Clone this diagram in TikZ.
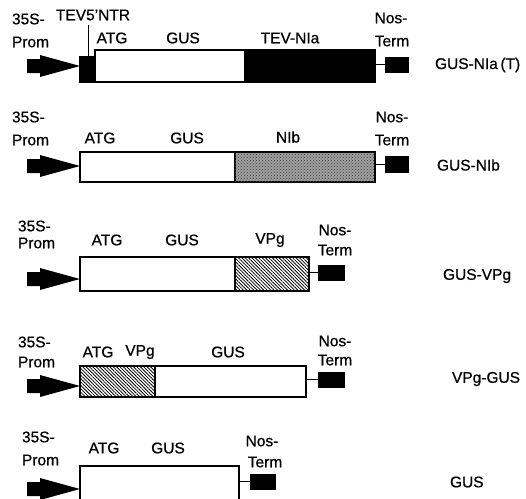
\documentclass[tikz,border=0pt]{standalone}
\usepackage{fontspec}
\setmainfont{Liberation Sans}
\newfontfamily\lblfont[FakeBold=0.6]{Liberation Sans}
\usetikzlibrary{patterns,patterns.meta}
\begin{document}
\begin{tikzpicture}[x=1pt,y=-1pt,
  lbl/.style={font=\lblfont\fontsize{15.5}{15.5}\selectfont, inner sep=0pt, outer sep=0pt},
  lblw/.style={lbl, anchor=west},
  seg/.style={draw, line width=1.1pt, inner sep=0pt, outer sep=0pt, anchor=north west},
  whiteseg/.style={seg, fill=white},
  blackseg/.style={seg, fill=black},
  stippleseg/.style={seg, fill=black!38, postaction={pattern=crosshatch dots, pattern color=black!75}},
  hatchseg/.style={seg, pattern={Lines[angle=-45,distance=2.4pt,line width=0.8pt]}},
  nosbox/.style={fill=black, draw, line width=0.5pt, inner sep=0pt, outer sep=0pt, anchor=north west},
  link/.style={line width=1pt},
  promarrow/.pic={\fill (-53,-7) -- (-40,-7) -- (-40,-11) -- (0,0) -- (-40,11) -- (-40,7) -- (-53,7) -- cycle;}
]
\useasboundingbox (0,0) rectangle (526,498);
\clip (0,0) rectangle (526,498);

% ---------- Row 1: GUS-NIa(T)
\pic at (80,66) {promarrow};
\node[blackseg, minimum width=15pt, minimum height=25pt] (t1) at (80,57) {};
\node[whiteseg, minimum width=150pt, minimum height=32pt] (a1) at (95,50) {};
\node[blackseg, minimum width=130pt, minimum height=32pt] (b1) at (245,50) {};
\node[nosbox, minimum width=23pt, minimum height=15pt] (n1) at (385,57) {};
\draw[link] (b1.east |- n1.west) -- (n1.west);
\node[lbl, anchor=west] (p1a) at (12,19) {35S-};
\node[lbl, anchor=west] (p1b) at (12,42) {Prom};
\node[lbl] (tev) at (93,15) {TEV5’NTR};
\coordinate (tevtop) at (88,25);
\draw[line width=0.9pt] (tevtop) -- (t1.north -| tevtop);
\node[lbl] (atg1) at (112,38) {ATG};
\node[lbl] (gus1) at (183,38) {GUS};
\node[lbl] (nia) at (290,38) {TEV-NIa};
\node[lbl] (nos1) at (391,18) {Nos-};
\node[lbl] (term1) at (392,41) {Term};
\node[lblw] (name1) at (435,65) {GUS-NIa\,(T)};

% ---------- Row 2: GUS-NIb
\pic at (80,166) {promarrow};
\node[whiteseg, minimum width=155pt, minimum height=30pt] (a2) at (80,152) {};
\node[stippleseg, minimum width=140pt, minimum height=30pt] (b2) at (235,152) {};
\node[nosbox, minimum width=23pt, minimum height=16pt] (n2) at (385,156) {};
\draw[link] (b2.east |- n2.west) -- (n2.west);
\node[lbl, anchor=west] (p2a) at (12,117) {35S-};
\node[lbl, anchor=west] (p2b) at (12,140) {Prom};
\node[lbl] (atg2) at (100,138) {ATG};
\node[lbl] (gus2) at (187,138) {GUS};
\node[lbl] (nib) at (288,137) {NIb};
\node[lbl] (nos2) at (392,117) {Nos-};
\node[lbl] (term2) at (392,140) {Term};
\node[lblw] (name2) at (437,165) {GUS-NIb};

% ---------- Row 3: GUS-VPg
\pic at (80,279) {promarrow};
\node[whiteseg, minimum width=155pt, minimum height=34pt] (a3) at (80,257) {};
\node[hatchseg, minimum width=74pt, minimum height=34pt] (b3) at (235,257) {};
\node[nosbox, minimum width=26pt, minimum height=15pt] (n3) at (318,265) {};
\draw[link] (b3.east |- n3.west) -- (n3.west);
\node[lbl, anchor=west] (p3a) at (18,226) {35S-};
\node[lbl, anchor=west] (p3b) at (18,243) {Prom};
\node[lbl] (atg3) at (107,240) {ATG};
\node[lbl] (gus3) at (182,240) {GUS};
\node[lbl] (vpg3) at (270,240) {VPg};
\node[lbl] (nos3) at (335,230) {Nos-};
\node[lbl] (term3) at (335,250) {Term};
\node[lblw] (name3) at (443,276) {GUS-VPg};

% ---------- Row 4: VPg-GUS
\pic at (80,386) {promarrow};
\node[hatchseg, minimum width=75pt, minimum height=31pt] (a4) at (80,366) {};
\node[whiteseg, minimum width=151pt, minimum height=31pt] (b4) at (155,366) {};
\node[nosbox, minimum width=26pt, minimum height=15pt] (n4) at (318,372) {};
\draw[link] (b4.east |- n4.west) -- (n4.west);
\node[lbl, anchor=west] (p4a) at (18,342) {35S-};
\node[lbl, anchor=west] (p4b) at (18,362) {Prom};
\node[lbl] (atg4) at (98,352) {ATG};
\node[lbl] (vpg4) at (140,352) {VPg};
\node[lbl] (gus4) at (228,352) {GUS};
\node[lbl] (nos4) at (335,341) {Nos-};
\node[lbl] (term4) at (335,360) {Term};
\node[lblw] (name4) at (452,379) {VPg-GUS};

% ---------- Row 5: GUS
\pic at (80,489) {promarrow};
\node[whiteseg, minimum width=159pt, minimum height=45pt] (a5) at (80,466) {};
\node[nosbox, minimum width=25pt, minimum height=15pt] (n5) at (250,474) {};
\draw[link] (a5.east |- n5.west) -- (n5.west);
\node[lbl, anchor=west] (p5a) at (22,437) {35S-};
\node[lbl, anchor=west] (p5b) at (22,460) {Prom};
\node[lbl] (atg5) at (104,448) {ATG};
\node[lbl] (gus5) at (168,448) {GUS};
\node[lbl] (nos5) at (262,441) {Nos-};
\node[lbl] (term5) at (265,462) {Term};
\node[lblw] (name5) at (450,482) {GUS};
\end{tikzpicture}
\end{document}
